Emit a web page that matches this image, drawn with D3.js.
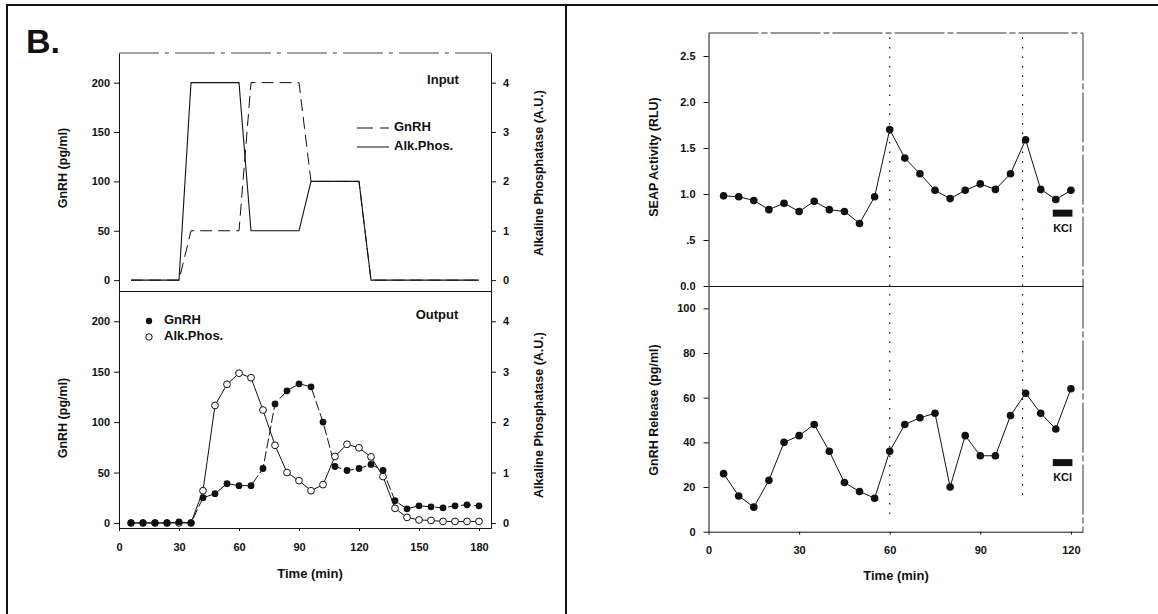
<!DOCTYPE html>
<html>
<head>
<meta charset="utf-8">
<script src="https://cdn.jsdelivr.net/npm/d3@7"></script>
<style>
  body { margin: 0; background: #fff; }
  svg { display: block; font-family: "Liberation Sans", Arial, sans-serif; }
  .axis text { font-size: 11px; font-weight: bold; fill: #111; }
  .axis path, .axis line { stroke: #111; stroke-width: 1; }
  .title { font-size: 12.5px; font-weight: bold; fill: #111; }
  .label { font-size: 13px; font-weight: bold; fill: #111; }
</style>
</head>
<body>
<svg id="chart" width="1158" height="614"></svg>
<script>
// left panel, input (square pulses, breakpoints)
const inputTime = [6, 30, 36, 60, 66, 90, 96, 120, 126, 180];
const inputGnrh = [0, 0, 50, 50, 200, 200, 100, 100, 0, 0];
const inputAlk = [0, 0, 4, 4, 1, 1, 2, 2, 0, 0];

// left panel, output (fractions every 6 min)
const outputTime = [6, 12, 18, 24, 30, 36, 42, 48, 54, 60, 66, 72, 78, 84, 90,
  96, 102, 108, 114, 120, 126, 132, 138, 144, 150, 156, 162, 168, 174, 180];
const outputGnrh = [0, 0, 0, 0, 1, 0, 25, 29, 39, 37, 37, 54, 118, 131, 138,
  135, 100, 56, 52, 54, 58, 52, 22, 14, 17, 16, 15, 17, 18, 17];
const outputAlk = [0, 0, 0, 0, 0, 0, 0.64, 2.33, 2.75, 2.97, 2.88, 2.24, 1.54, 1.0, 0.84,
  0.64, 0.76, 1.32, 1.56, 1.49, 1.31, 0.92, 0.29, 0.11, 0.06, 0.05, 0.03, 0.03, 0.03, 0.03];

// right panel (every 5 min)
const rightTime = [5, 10, 15, 20, 25, 30, 35, 40, 45, 50, 55, 60,
  65, 70, 75, 80, 85, 90, 95, 100, 105, 110, 115, 120];
const seapActivity = [0.98, 0.97, 0.93, 0.83, 0.90, 0.81, 0.92, 0.83, 0.81, 0.68, 0.97, 1.70,
  1.39, 1.22, 1.04, 0.95, 1.04, 1.11, 1.05, 1.22, 1.59, 1.05, 0.94, 1.04];
const gnrhRelease = [26, 16, 11, 23, 40, 43, 48, 36, 22, 18, 15, 36,
  48, 51, 53, 20, 43, 34, 34, 52, 62, 53, 46, 64];

// stimulus markers: dotted lines (time, where they stop on the release axis) and KCl window
const stimTime = [60, 104];
const stimEnd = [6, 16];
const kclWindow = [114, 120.5];

// tick labels
const gnrhTicks = [0, 50, 100, 150, 200];
const alkTicks = [0, 1, 2, 3, 4];
const leftTimeTicks = [0, 30, 60, 90, 120, 150, 180];
const seapTicks = [0, 0.5, 1, 1.5, 2, 2.5];
const releaseTicks = [0, 20, 40, 60, 80, 100];
const rightTimeTicks = [0, 30, 60, 90, 120];

const svg = d3.select("#chart");
const ink = "#111";

// outer frame + divider
svg.append("path")
  .attr("d", "M7,614V5H1158M566,5V614")
  .attr("fill", "none")
  .attr("stroke", ink)
  .attr("stroke-width", 2);

svg.append("text")
  .attr("x", 26)
  .attr("y", 53)
  .attr("font-size", 34)
  .attr("font-weight", "bold")
  .attr("fill", ink)
  .text("B.");

const pairs = (xs, ys) => d3.zip(xs, ys);

// ---------- left panel ----------
const xLeft = d3.scaleLinear().domain([0, 186]).range([119, 491]);

const yInGnrh = d3.scaleLinear().domain([-11, 230]).range([291, 53]);
const yInAlk = d3.scaleLinear().domain([-0.22, 4.6]).range([291, 53]);
const yOutGnrh = d3.scaleLinear().domain([-5, 230]).range([528, 291]);
const yOutAlk = d3.scaleLinear().domain([-0.1, 4.6]).range([528, 291]);

const drawLeftAxes = (yL, yR, bottomY, showTime) => {
  svg.append("g")
    .attr("class", "axis")
    .attr("transform", "translate(119,0)")
    .call(d3.axisLeft(yL).tickValues(gnrhTicks).tickSize(5).tickPadding(4).tickSizeOuter(0));
  svg.append("g")
    .attr("class", "axis")
    .attr("transform", "translate(491,0)")
    .call(d3.axisRight(yR).tickValues(alkTicks).tickSize(5).tickPadding(7).tickSizeOuter(0)
      .tickFormat(d3.format("d")));
  svg.append("g")
    .attr("class", "axis")
    .attr("transform", `translate(0,${bottomY})`)
    .call(d3.axisBottom(xLeft).tickValues(showTime ? leftTimeTicks : []).tickSize(showTime ? 3 : 0).tickPadding(12).tickSizeOuter(0));
};

drawLeftAxes(yInGnrh, yInAlk, 291, false);
drawLeftAxes(yOutGnrh, yOutAlk, 528, true);

// faint top border of the input plot
svg.append("line")
  .attr("x1", 119).attr("x2", 491)
  .attr("y1", 53).attr("y2", 53)
  .attr("stroke", "#444")
  .attr("stroke-dasharray", "40,6,4,6");

// input lines
svg.append("path")
  .datum(pairs(inputTime, inputGnrh))
  .attr("fill", "none")
  .attr("stroke", ink)
  .attr("stroke-width", 1)
  .attr("stroke-dasharray", "12,6")
  .attr("d", d3.line().x((d) => xLeft(d[0])).y((d) => yInGnrh(d[1])));

svg.append("path")
  .datum(pairs(inputTime, inputAlk))
  .attr("fill", "none")
  .attr("stroke", ink)
  .attr("stroke-width", 1.1)
  .attr("d", d3.line().x((d) => xLeft(d[0])).y((d) => yInAlk(d[1])));

svg.append("text").attr("class", "label").attr("x", 443).attr("y", 84)
  .attr("text-anchor", "middle").text("Input");

// input legend
svg.append("line").attr("x1", 357).attr("x2", 389).attr("y1", 128).attr("y2", 128)
  .attr("stroke", ink).attr("stroke-dasharray", "16,7");
svg.append("line").attr("x1", 357).attr("x2", 389).attr("y1", 147).attr("y2", 147)
  .attr("stroke", ink);
svg.append("text").attr("class", "label").attr("x", 394).attr("y", 128)
  .attr("dominant-baseline", "middle").text("GnRH");
svg.append("text").attr("class", "label").attr("x", 394).attr("y", 147)
  .attr("dominant-baseline", "middle").text("Alk.Phos.");

// output lines + markers
svg.append("path")
  .datum(pairs(outputTime, outputAlk))
  .attr("fill", "none")
  .attr("stroke", ink)
  .attr("stroke-width", 1)
  .attr("d", d3.line().x((d) => xLeft(d[0])).y((d) => yOutAlk(d[1])));

svg.append("path")
  .datum(pairs(outputTime, outputGnrh))
  .attr("fill", "none")
  .attr("stroke", ink)
  .attr("stroke-width", 1)
  .attr("stroke-dasharray", "10,3")
  .attr("d", d3.line().x((d) => xLeft(d[0])).y((d) => yOutGnrh(d[1])));

svg.append("g")
  .selectAll("circle")
  .data(pairs(outputTime, outputAlk))
  .join("circle")
  .attr("cx", (d) => xLeft(d[0]))
  .attr("cy", (d) => yOutAlk(d[1]))
  .attr("r", 3.4)
  .attr("fill", "#fff")
  .attr("stroke", ink);

svg.append("g")
  .selectAll("circle")
  .data(pairs(outputTime, outputGnrh))
  .join("circle")
  .attr("cx", (d) => xLeft(d[0]))
  .attr("cy", (d) => yOutGnrh(d[1]))
  .attr("r", 3.4)
  .attr("fill", ink);

svg.append("text").attr("class", "label").attr("x", 437).attr("y", 319)
  .attr("text-anchor", "middle").text("Output");

// output legend
svg.append("circle").attr("cx", 149).attr("cy", 321).attr("r", 3.2).attr("fill", ink);
svg.append("circle").attr("cx", 149).attr("cy", 337).attr("r", 3.2).attr("fill", "#fff").attr("stroke", ink);
svg.append("text").attr("class", "label").attr("x", 164).attr("y", 321)
  .attr("dominant-baseline", "middle").text("GnRH");
svg.append("text").attr("class", "label").attr("x", 164).attr("y", 337)
  .attr("dominant-baseline", "middle").text("Alk.Phos.");

// axis titles
const vTitle = (x, y, text) =>
  svg.append("text").attr("class", "title")
    .attr("transform", `translate(${x},${y}) rotate(-90)`)
    .attr("text-anchor", "middle")
    .attr("dominant-baseline", "middle")
    .text(text);

vTitle(64, 168, "GnRH (pg/ml)");
vTitle(64, 418, "GnRH (pg/ml)");
vTitle(540, 173, "Alkaline Phosphatase (A.U.)");
vTitle(540, 415, "Alkaline Phosphatase (A.U.)");

svg.append("text").attr("class", "label").attr("x", 310).attr("y", 578)
  .attr("text-anchor", "middle").text("Time (min)");

// ---------- right panel ----------
const xRight = d3.scaleLinear().domain([0, 124]).range([708.5, 1083]);
const ySeap = d3.scaleLinear().domain([0, 2.75]).range([286, 33]);
const yRelease = d3.scaleLinear().domain([0, 110]).range([531.7, 286]);

svg.append("g")
  .attr("class", "axis")
  .attr("transform", "translate(708.5,0)")
  .call(d3.axisLeft(ySeap).tickValues(seapTicks).tickSize(5).tickPadding(8).tickSizeOuter(0)
    .tickFormat((d) => (d === 0.5 ? ".5" : d3.format(".1f")(d))));

svg.append("g")
  .attr("class", "axis")
  .attr("transform", "translate(708.5,0)")
  .call(d3.axisLeft(yRelease).tickValues(releaseTicks).tickSize(5).tickPadding(8).tickSizeOuter(0));

svg.append("g")
  .attr("class", "axis")
  .attr("transform", "translate(0,286)")
  .call(d3.axisBottom(xRight).tickValues([]).tickSizeOuter(0));

svg.append("g")
  .attr("class", "axis")
  .attr("transform", "translate(0,531.7)")
  .call(d3.axisBottom(xRight).tickValues(rightTimeTicks).tickSize(3).tickPadding(12).tickSizeOuter(0));

// box top + right
svg.append("path")
  .attr("d", `M${xRight(0)},${ySeap(2.75)}H${xRight(124)}V${yRelease(0)}`)
  .attr("fill", "none")
  .attr("stroke", "#333")
  .attr("stroke-dasharray", "50,3,6,3");

// stimulus dotted lines
svg.append("g")
  .selectAll("line")
  .data(pairs(stimTime, stimEnd))
  .join("line")
  .attr("x1", (d) => xRight(d[0]))
  .attr("x2", (d) => xRight(d[0]))
  .attr("y1", ySeap(2.7))
  .attr("y2", (d) => yRelease(d[1]))
  .attr("stroke", ink)
  .attr("stroke-width", 1.2)
  .attr("stroke-dasharray", "1.5,8");

const drawSeries = (values, y) => {
  const data = pairs(rightTime, values);
  svg.append("path")
    .datum(data)
    .attr("fill", "none")
    .attr("stroke", ink)
    .attr("stroke-width", 1)
    .attr("d", d3.line().x((d) => xRight(d[0])).y((d) => y(d[1])));
  svg.append("g")
    .selectAll("circle")
    .data(data)
    .join("circle")
    .attr("cx", (d) => xRight(d[0]))
    .attr("cy", (d) => y(d[1]))
    .attr("r", 3.8)
    .attr("fill", ink);
};

drawSeries(seapActivity, ySeap);
drawSeries(gnrhRelease, yRelease);

// KCl bars
const drawKcl = (yTop) => {
  svg.append("rect")
    .attr("x", xRight(kclWindow[0]))
    .attr("width", xRight(kclWindow[1]) - xRight(kclWindow[0]))
    .attr("y", yTop)
    .attr("height", 7)
    .attr("fill", ink);
  svg.append("text")
    .attr("x", (xRight(kclWindow[0]) + xRight(kclWindow[1])) / 2)
    .attr("y", yTop + 22)
    .attr("text-anchor", "middle")
    .attr("font-size", 11)
    .attr("font-weight", "bold")
    .attr("fill", ink)
    .text("KCl");
};
drawKcl(ySeap(0.83));
drawKcl(yRelease(32.5));

vTitle(655, 157, "SEAP Activity (RLU)");
vTitle(655, 410, "GnRH Release (pg/ml)");

svg.append("text").attr("class", "label").attr("x", 896).attr("y", 580)
  .attr("text-anchor", "middle").text("Time (min)");
</script>
</body>
</html>
